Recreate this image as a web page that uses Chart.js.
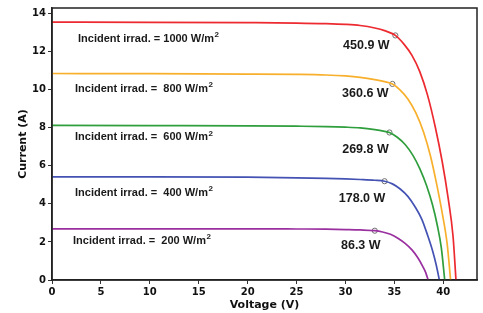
<!DOCTYPE html>
<html>
<head>
<meta charset="utf-8">
<script src="https://cdn.jsdelivr.net/npm/chart.js@4.4.1/dist/chart.umd.min.js"></script>
<style>
html,body{margin:0;padding:0;background:#fff;}
#wrap{width:483px;height:313px;position:relative;}
</style>
</head>
<body>
<div id="wrap"><canvas id="c" width="483" height="313"></canvas></div>
<script>
// ---- data ----
const irradiance = [1000, 800, 600, 400, 200];
const voltRed    = [0, 10, 20, 25, 28, 30, 31.5, 33, 34, 35.1, 36, 36.8, 37.6, 38.4, 39.2, 39.9, 40.5, 41.0, 41.3];
const currRed    = [13.55, 13.54, 13.52, 13.5, 13.47, 13.43, 13.37, 13.24, 13.1, 12.85, 12.38, 11.8, 10.95, 9.7, 8.0, 6.2, 4.3, 2.3, 0];
const voltOrange = [0, 10, 20, 25, 28, 30, 31.5, 33, 34, 34.8, 35.6, 36.4, 37.2, 38.0, 38.7, 39.3, 39.9, 40.4, 40.75];
const currOrange = [10.85, 10.84, 10.82, 10.8, 10.77, 10.72, 10.65, 10.53, 10.42, 10.3, 9.98, 9.5, 8.78, 7.75, 6.5, 5.1, 3.5, 1.9, 0];
const voltGreen  = [0, 10, 20, 25, 28, 30, 31.5, 33, 34, 34.5, 35.3, 36.1, 36.9, 37.6, 38.3, 38.9, 39.4, 39.8, 40.15];
const currGreen  = [8.12, 8.11, 8.1, 8.08, 8.06, 8.03, 7.99, 7.9, 7.81, 7.75, 7.5, 7.12, 6.55, 5.85, 4.95, 3.95, 2.85, 1.7, 0];
const voltBlue   = [0, 10, 20, 25, 28, 30, 31.5, 33, 34, 34.8, 35.6, 36.4, 37.1, 37.8, 38.4, 38.9, 39.3, 39.6];
const currBlue   = [5.42, 5.42, 5.4, 5.37, 5.34, 5.31, 5.28, 5.24, 5.19, 5.05, 4.78, 4.38, 3.86, 3.2, 2.35, 1.55, 0.75, 0];
const voltPurple = [0, 10, 20, 25, 28, 30, 31.5, 33, 33.8, 34.6, 35.4, 36.1, 36.8, 37.4, 37.9, 38.2, 38.45];
const currPurple = [2.69, 2.69, 2.69, 2.68, 2.67, 2.65, 2.63, 2.59, 2.52, 2.4, 2.18, 1.92, 1.58, 1.17, 0.72, 0.4, 0];
const mppVolt    = [35.1, 34.8, 34.5, 34.0, 33.0];
const mppCurr    = [12.85, 10.3, 7.75, 5.19, 2.59];
const mppLabels  = ['450.9 W', '360.6 W', '269.8 W', '178.0 W', '86.3 W'];
const xTicks     = [0, 5, 10, 15, 20, 25, 30, 35, 40];
const yTicks     = [0, 2, 4, 6, 8, 10, 12, 14];

// ---- styling ----
const colors = ['#ec2a30', '#f8b02c', '#2f9e3c', '#4453b3', '#9a2fa0'];
const curves = [[voltRed, currRed], [voltOrange, currOrange], [voltGreen, currGreen], [voltBlue, currBlue], [voltPurple, currPurple]];
const pts = (xs, ys) => xs.map((x, i) => ({x: x, y: ys[i]}));

const datasets = curves.map((c, i) => ({
  data: pts(c[0], c[1]),
  borderColor: colors[i],
  borderWidth: 1.7,
  showLine: true,
  pointRadius: 0,
  cubicInterpolationMode: 'monotone',
  fill: false
}));
datasets.push({
  data: pts(mppVolt, mppCurr),
  showLine: false,
  pointRadius: 2.6,
  pointBorderWidth: 1,
  pointBorderColor: '#6f6f6f',
  pointBackgroundColor: '#ffffff'
});

// label layout (pixel offsets)
const irrLeft = [26, 23, 23, 23, 21];
const irrDy   = [17, 15, 12, 16, 12];
const mppDx   = [-29, -27, -24, -22.5, -14];
const mppDy   = [10, 10, 17, 17, 15];

const annot = {
  id: 'annot',
  afterDatasetsDraw(chart) {
    const {ctx, chartArea, scales} = chart;
    ctx.save();
    ctx.fillStyle = '#1a1a1a';
    ctx.textBaseline = 'middle';
    irradiance.forEach((v, i) => {
      const txt = 'Incident irrad. = ' + (v >= 1000 ? '' : '\u00a0') + v + ' W/m';
      const x = chartArea.left + irrLeft[i];
      const y = scales.y.getPixelForValue(curves[i][1][0]) + irrDy[i];
      ctx.font = 'bold 11px "Liberation Sans", Arial, sans-serif';
      ctx.textAlign = 'left';
      ctx.fillText(txt, x, y);
      const w = ctx.measureText(txt).width;
      ctx.font = 'bold 8px "Liberation Sans", Arial, sans-serif';
      ctx.fillText('2', x + w + 0.5, y - 4);
    });
    ctx.font = 'bold 12.5px "Liberation Sans", Arial, sans-serif';
    ctx.textAlign = 'center';
    mppLabels.forEach((t, i) => {
      const x = scales.x.getPixelForValue(mppVolt[i]) + mppDx[i];
      const y = scales.y.getPixelForValue(mppCurr[i]) + mppDy[i];
      ctx.fillText(t, x, y);
    });
    // frame
    ctx.strokeStyle = '#222';
    ctx.lineWidth = 1.5;
    ctx.strokeRect(chartArea.left, chartArea.top, chartArea.right - chartArea.left, chartArea.bottom - chartArea.top);
    ctx.restore();
  }
};

const tickFont = {family: '"DejaVu Sans", sans-serif', size: 10, weight: 'bold'};
const titleFont = {family: '"DejaVu Sans", sans-serif', size: 11, weight: 'bold'};

new Chart(document.getElementById('c'), {
  type: 'scatter',
  data: {datasets: datasets},
  options: {
    responsive: false,
    animation: false,
    events: [],
    layout: {padding: {left: 0, right: 6, top: 7, bottom: 0}},
    plugins: {legend: {display: false}, tooltip: {enabled: false}},
    scales: {
      x: {
        type: 'linear', min: 0, max: 43.45,
        afterBuildTicks: s => { s.ticks = xTicks.map(v => ({value: v})); },
        afterFit: s => { s.height = 33; },
        ticks: {font: tickFont, color: '#111', padding: 2, maxRotation: 0},
        grid: {display: true, drawOnChartArea: false, drawTicks: true, tickLength: 4, color: '#333'},
        border: {display: true, color: '#222', width: 1.5},
        title: {display: true, text: 'Voltage (V)', font: titleFont, color: '#111', padding: {top: 0, bottom: 1}}
      },
      y: {
        type: 'linear', min: 0, max: 14.29,
        afterBuildTicks: s => { s.ticks = yTicks.map(v => ({value: v})); },
        afterFit: s => { s.width = 52; },
        ticks: {font: tickFont, color: '#111', padding: 2},
        grid: {display: true, drawOnChartArea: false, drawTicks: true, tickLength: 4, color: '#333'},
        border: {display: true, color: '#222', width: 1.5},
        title: {display: true, text: 'Current (A)', font: titleFont, color: '#111', padding: {top: 17, bottom: 0}}
      }
    }
  },
  plugins: [annot]
});
</script>
</body>
</html>
